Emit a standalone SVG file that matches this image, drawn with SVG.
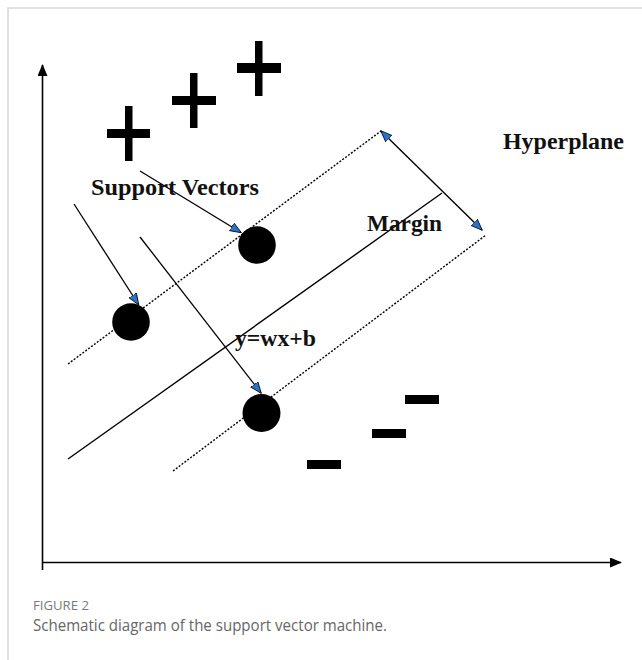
<svg xmlns="http://www.w3.org/2000/svg" width="642" height="660" viewBox="0 0 642 660">
<style>
.lbl{font-family:"Liberation Serif","Times New Roman",serif;font-weight:bold;font-size:23.5px;fill:#111}
.ax{stroke:#000;stroke-width:1.6;fill:none}
.sol{stroke:#000;stroke-width:1.4;fill:none}
.dot{stroke:#000;stroke-width:1.4;fill:none;stroke-dasharray:2 1.6}
.arr{stroke:#000;stroke-width:1.3;fill:none;marker-end:url(#blue)}
.blk{fill:#000}
</style>
<defs>
<marker id="blue" viewBox="0 0 12 10" refX="11" refY="5" markerWidth="12" markerHeight="10" markerUnits="userSpaceOnUse" orient="auto">
<path d="M0,0.5 L11.5,5 L0,9.5 Z" fill="#2a73c9" stroke="#000" stroke-width="0.8"/>
</marker>
<marker id="blueS" viewBox="0 0 12 10" refX="11" refY="5" markerWidth="12" markerHeight="10" markerUnits="userSpaceOnUse" orient="auto-start-reverse">
<path d="M0,0.5 L11.5,5 L0,9.5 Z" fill="#2a73c9" stroke="#000" stroke-width="0.8"/>
</marker>
<marker id="black" viewBox="0 0 12 10" refX="11" refY="5" markerWidth="12" markerHeight="10" markerUnits="userSpaceOnUse" orient="auto">
<path d="M0,0 L12,5 L0,10 Z" fill="#000"/>
</marker>
</defs>
<rect width="642" height="660" fill="#fff"/>
<path d="M8,660 V8 H642" stroke="#d6d6d6" stroke-width="1.5" fill="none"/>

<g id="axes">
<line class="ax" x1="42.5" y1="570" x2="42.5" y2="65" marker-end="url(#black)"/>
<line class="ax" x1="42" y1="562.5" x2="621" y2="562.5" marker-end="url(#black)"/>
</g>

<g id="plus1" class="blk"><rect x="107" y="129" width="43" height="9"/><rect x="125" y="106" width="7.5" height="55"/></g>
<g id="plus2" class="blk"><rect x="172" y="96" width="44" height="9"/><rect x="190" y="73" width="7.5" height="55"/></g>
<g id="plus3" class="blk"><rect x="237" y="63" width="44" height="10"/><rect x="255" y="41" width="7.5" height="55"/></g>

<g id="minus1" class="blk"><rect x="405" y="395" width="34" height="9"/></g>
<g id="minus2" class="blk"><rect x="372" y="429" width="34" height="9"/></g>
<g id="minus3" class="blk"><rect x="307" y="460" width="34" height="9"/></g>

<g id="connectors">
<line class="sol" x1="68" y1="459" x2="442" y2="193"/>
<line class="dot" x1="68" y1="364" x2="381" y2="131"/>
<line class="dot" x1="173" y1="471" x2="486" y2="235"/>
<line class="sol" x1="381" y1="131" x2="482" y2="230" marker-start="url(#blueS)" marker-end="url(#blue)"/>
<line class="arr" x1="140" y1="171" x2="241" y2="232.5"/>
<line class="arr" x1="74" y1="204" x2="138.5" y2="304.5"/>
<line class="arr" x1="140" y1="237" x2="261" y2="393"/>
</g>

<g id="sv1"><circle cx="257" cy="245" r="18.8" fill="#000"/></g>
<g id="sv2"><circle cx="131" cy="322" r="18.8" fill="#000"/></g>
<g id="sv3"><circle cx="261.5" cy="413" r="19" fill="#000"/></g>

<g id="labels">
<text class="lbl" x="91" y="195" textLength="168" lengthAdjust="spacingAndGlyphs">Support Vectors</text>
<text class="lbl" x="503" y="149" textLength="121" lengthAdjust="spacingAndGlyphs">Hyperplane</text>
<text class="lbl" x="367" y="231" textLength="75" lengthAdjust="spacingAndGlyphs">Margin</text>
<text class="lbl" x="235" y="346" textLength="81" lengthAdjust="spacingAndGlyphs">y=wx+b</text>
</g>

<g id="caption" font-family="'Open Sans','Noto Sans',sans-serif">
<text x="33" y="609.5" font-size="12.5" fill="#7a7a7a" textLength="56" lengthAdjust="spacingAndGlyphs">FIGURE 2</text>
<text x="33" y="631" font-size="16" fill="#666" textLength="354" lengthAdjust="spacingAndGlyphs">Schematic diagram of the support vector machine.</text>
</g>
</svg>
